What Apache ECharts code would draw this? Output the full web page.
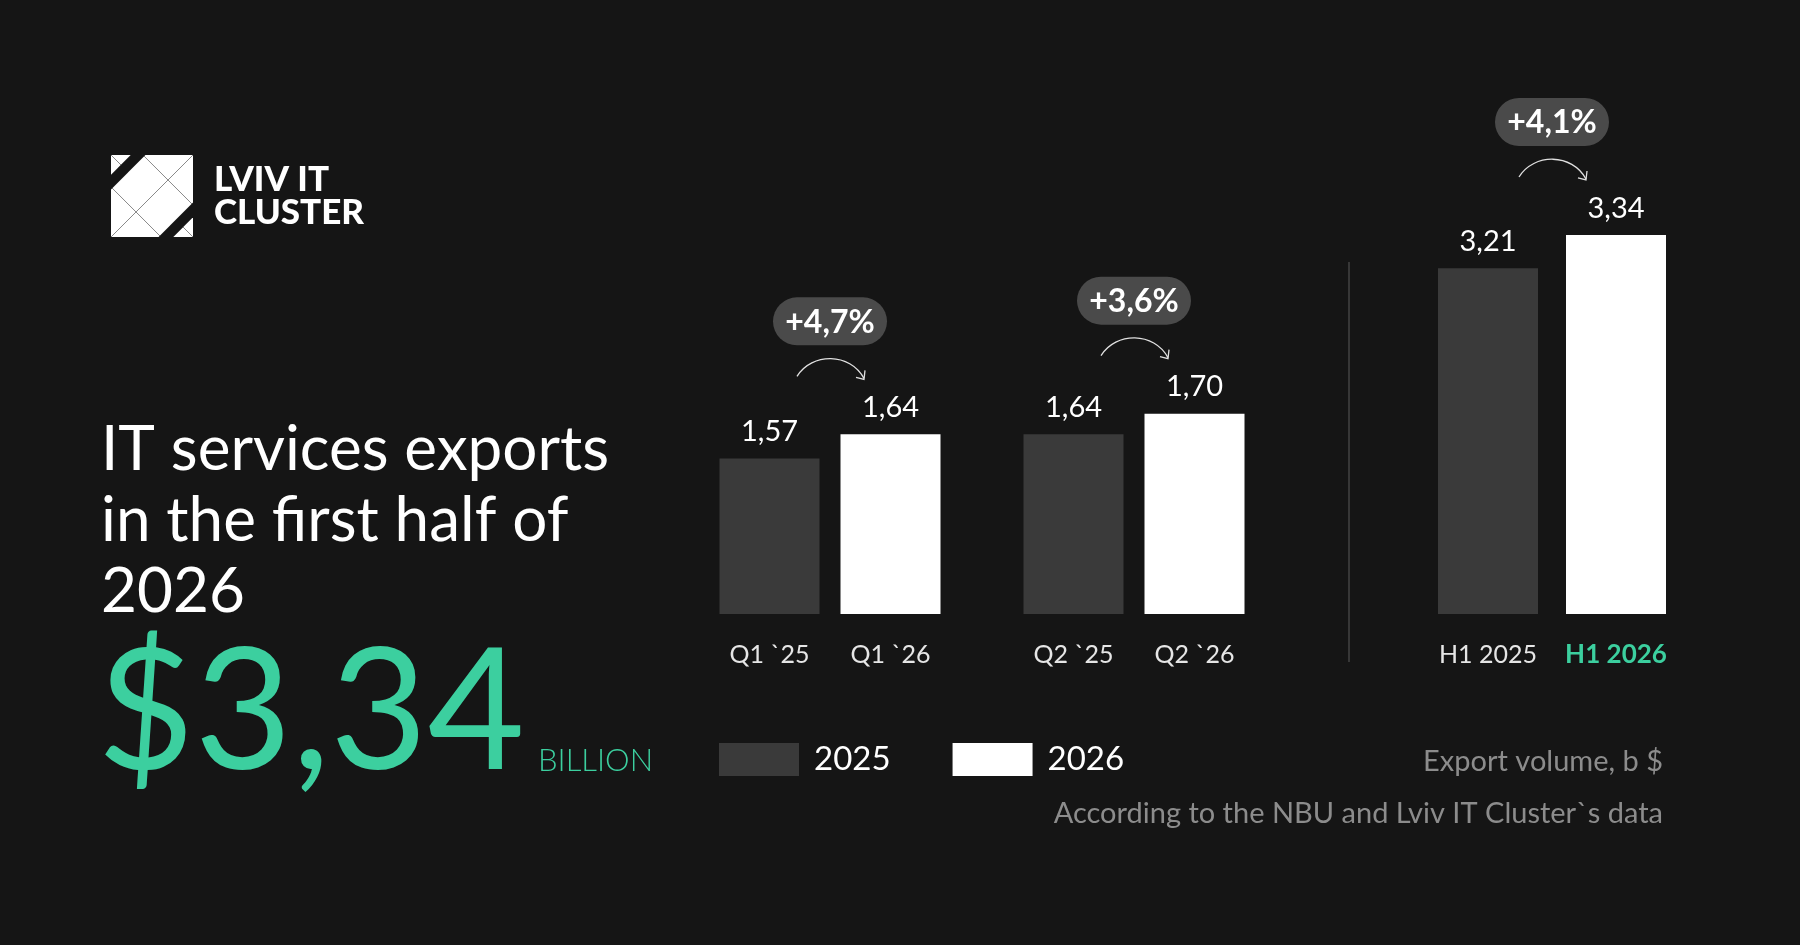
<!DOCTYPE html>
<html>
<head>
<meta charset="utf-8">
<title>IT services exports H1 2026</title>
<script src="https://cdn.jsdelivr.net/npm/echarts@6/dist/echarts.min.js"></script>
<style>
  html, body { margin: 0; padding: 0; background: #151515; }
  #chart { width: 1800px; height: 945px; }
</style>
</head>
<body>
<div id="chart"></div>
<script>
// data
const labels2025 = ['Q1 `25', 'Q2 `25', 'H1 2025'];
const labels2026 = ['Q1 `26', 'Q2 `26', 'H1 2026'];
const values2025 = [1.57, 1.64, 3.21];
const values2026 = [1.64, 1.70, 3.34];
const growth = ['+4,7%', '+3,6%', '+4,1%'];
// each group has its own value scale (as in the original design)
const axisMin = [1.12, 1.12, 1.86];
const axisMax = [2.0, 2.0, 3.5];

const FONT = 'Lato';
const GREEN = '#3ccf9f';
const DARK_BAR = '#3a3a3a';

const grids = [
  { left: 709, top: 310, width: 242, height: 304 },
  { left: 1013, top: 310, width: 242, height: 304 },
  { left: 1424, top: 194, width: 256, height: 420 }
];

const fmt = v => String(v.toFixed(2)).replace('.', ',');

let xAxes = [], yAxes = [], series = [];
grids.forEach((g, i) => {
  xAxes.push({
    type: 'category',
    gridIndex: i,
    data: [labels2025[i], labels2026[i]],
    axisLine: { show: false },
    axisTick: { show: false },
    axisLabel: {
      interval: 0,
      hideOverlap: false,
      margin: 28,
      fontFamily: FONT,
      fontSize: 25,
      color: '#e6e6e6',
      formatter: function (val) {
        return val === 'H1 2026' ? '{hl|' + val + '}' : val;
      },
      rich: {
        hl: { fontFamily: FONT, fontSize: 26, fontWeight: 'bold', color: GREEN }
      }
    }
  });
  yAxes.push({
    type: 'value',
    gridIndex: i,
    min: axisMin[i],
    max: axisMax[i],
    show: false,
    splitLine: { show: false }
  });
  let label = {
    show: true,
    position: 'top',
    distance: 12,
    fontFamily: FONT,
    fontSize: 29,
    color: '#ffffff',
    formatter: p => fmt(p.value)
  };
  series.push({
    name: '2025',
    type: 'bar',
    xAxisIndex: i,
    yAxisIndex: i,
    barWidth: 100,
    barGap: '-100%',
    itemStyle: { color: DARK_BAR },
    label: label,
    silent: true,
    data: [values2025[i], '-']
  });
  series.push({
    name: '2026',
    type: 'bar',
    xAxisIndex: i,
    yAxisIndex: i,
    barWidth: 100,
    barGap: '-100%',
    itemStyle: { color: '#ffffff' },
    label: label,
    silent: true,
    data: ['-', values2026[i]]
  });
});

// logo: square with diagonal lines and two cut strips
function logo(x, y, s) {
  const P = (u, v) => [x + u * s, y + v * s];
  const els = [
    { type: 'rect', shape: { x: x, y: y, width: s, height: s }, style: { fill: '#ffffff' } }
  ];
  const lines = [
    [P(0.39, 0), P(1, 0.61)],
    [P(0, 0.39), P(0.61, 1)],
    [P(1, 0), P(0, 1)],
    [P(0, 0), P(0.2, 0.2)],
    [P(0.8, 0.8), P(1, 1)]
  ];
  lines.forEach(l => els.push({
    type: 'line',
    shape: { x1: l[0][0], y1: l[0][1], x2: l[1][0], y2: l[1][1] },
    style: { stroke: '#8a8a8a', lineWidth: 1 }
  }));
  els.push({ type: 'polygon', shape: { points: [P(0.24, 0), P(0.42, 0), P(0, 0.42), P(0, 0.24)] }, style: { fill: '#151515' } });
  els.push({ type: 'polygon', shape: { points: [P(1, 0.58), P(1, 0.76), P(0.76, 1), P(0.58, 1)] }, style: { fill: '#151515' } });
  return els;
}

const staticGraphic = logo(111, 155, 82).concat([
  { type: 'text', style: { x: 214, y: 180, text: 'LVIV IT', fontFamily: FONT, fontWeight: 900, fontSize: 35, fill: '#ffffff', verticalAlign: 'middle' } },
  { type: 'text', style: { x: 214, y: 213, text: 'CLUSTER', fontFamily: FONT, fontWeight: 900, fontSize: 35, fill: '#ffffff', verticalAlign: 'middle' } },
  { type: 'text', style: { x: 101, y: 450, text: 'IT services exports', fontFamily: FONT, fontSize: 62, fill: '#ffffff', verticalAlign: 'middle' } },
  { type: 'text', style: { x: 101, y: 521, text: 'in the first half of', fontFamily: FONT, fontSize: 62, fill: '#ffffff', verticalAlign: 'middle' } },
  { type: 'text', style: { x: 101, y: 592, text: '2026', fontFamily: FONT, fontSize: 62, fill: '#ffffff', verticalAlign: 'middle' } },
  { type: 'text', style: { x: 97, y: 715, text: '$' + fmt(values2026[2]), fontFamily: FONT, fontSize: 168, fill: GREEN, verticalAlign: 'middle' } },
  { type: 'text', style: { x: 538, y: 761, text: 'BILLION', fontFamily: FONT, fontWeight: 300, fontSize: 31, fill: GREEN, verticalAlign: 'middle' } },
  { type: 'line', shape: { x1: 1349, y1: 262, x2: 1349, y2: 662 }, style: { stroke: '#5a5a5a', lineWidth: 1 } },
  { type: 'text', style: { x: 1663, y: 762, text: 'Export volume, b $', fontFamily: FONT, fontSize: 29, fill: '#8c8c8c', align: 'right', verticalAlign: 'middle' } },
  { type: 'text', style: { x: 1663, y: 814, text: 'According to the NBU and Lviv IT Cluster`s data', fontFamily: FONT, fontSize: 29, fill: '#8c8c8c', align: 'right', verticalAlign: 'middle' } }
]);

let option = {
  backgroundColor: '#151515',
  animation: false,
  grid: grids,
  xAxis: xAxes,
  yAxis: yAxes,
  legend: {
    left: 714,
    top: 738,
    itemWidth: 80,
    itemHeight: 33,
    itemGap: 62,
    icon: 'rect',
    selectedMode: false,
    data: ['2025', '2026'],
    textStyle: { fontFamily: FONT, fontSize: 33, color: '#ffffff', padding: [0, 0, 0, 10] }
  },
  series: series,
  graphic: staticGraphic
};

const chart = echarts.init(document.getElementById('chart'));
chart.setOption(option);

// growth badges and arrows, placed from the axes
let extra = [];
grids.forEach((g, i) => {
  const p0 = chart.convertToPixel({ gridIndex: i }, [0, values2025[i]]);
  const p1 = chart.convertToPixel({ gridIndex: i }, [1, values2026[i]]);
  const cx = (p0[0] + p1[0]) / 2;
  const top = p1[1];
  const by = top - 113;
  extra.push({
    type: 'rect',
    shape: { x: cx - 57, y: by - 24, width: 114, height: 48, r: 24 },
    style: { fill: '#4a4a4a' }
  });
  extra.push({
    type: 'text',
    style: { x: cx, y: by + 1, text: growth[i], fontFamily: FONT, fontWeight: 'bold', fontSize: 32, fill: '#ffffff', align: 'center', verticalAlign: 'middle' }
  });
  const ay = top - 58;
  const x1 = cx - 33, x2 = cx + 34;
  extra.push({
    type: 'bezierCurve',
    shape: { x1: x1, y1: ay, cpx1: cx - 18, cpy1: ay - 24, cpx2: cx + 20, cpy2: ay - 24, x2: x2, y2: ay + 2 },
    style: { stroke: '#e0e0e0', lineWidth: 1.3, fill: null }
  });
  extra.push({
    type: 'polyline',
    shape: { points: [[x2 - 8, ay + 1], [x2, ay + 3], [x2 + 1, ay - 6]] },
    style: { stroke: '#e0e0e0', lineWidth: 1.3, fill: null }
  });
});
chart.setOption({ graphic: staticGraphic.concat(extra) });
</script>
</body>
</html>
